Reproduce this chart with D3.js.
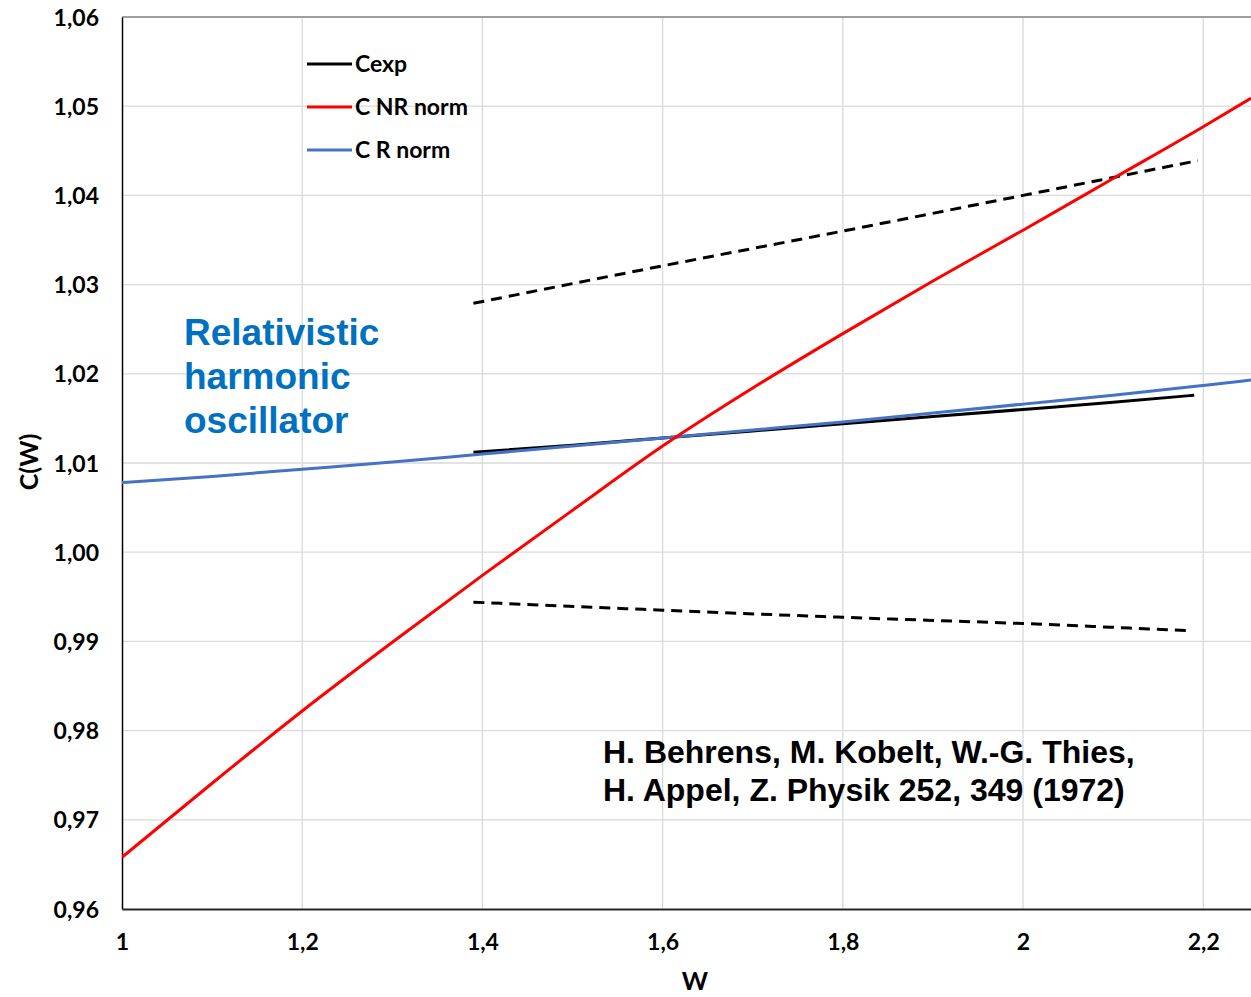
<!DOCTYPE html>
<html>
<head>
<meta charset="utf-8">
<script src="https://d3js.org/d3.v7.min.js"></script>
<style>
  html, body { margin: 0; padding: 0; background: #fff; }
  svg { display: block; }
</style>
</head>
<body>
<svg id="chart" width="1251" height="997"></svg>
<script>
// ---- data ----
const xTicks = [1, 1.2, 1.4, 1.6, 1.8, 2, 2.2];
const xTickLabels = ["1", "1,2", "1,4", "1,6", "1,8", "2", "2,2"];
const yTicks = [0.96, 0.97, 0.98, 0.99, 1.00, 1.01, 1.02, 1.03, 1.04, 1.05, 1.06];
const yTickLabels = ["0,96", "0,97", "0,98", "0,99", "1,00", "1,01", "1,02", "1,03", "1,04", "1,05", "1,06"];

const wTheory = [1.0, 1.1, 1.2, 1.3, 1.4, 1.5, 1.6, 1.7, 1.8, 1.9, 2.0, 2.1, 2.2, 2.253];
const cNRnorm = [0.9658, 0.9741, 0.9822, 0.9899, 0.9974, 1.0047, 1.0119, 1.0184, 1.0245, 1.0304, 1.0361, 1.0419, 1.0477, 1.0509];
const cRnorm  = [1.0078, 1.0085, 1.0093, 1.0101, 1.0110, 1.0119, 1.0128, 1.0137, 1.0146, 1.0156, 1.0166, 1.0176, 1.0187, 1.0193];

const wExp = [1.39, 1.5, 1.6, 1.7, 1.8, 1.9, 2.0, 2.1, 2.19];
const cExp = [1.0112, 1.0120, 1.0128, 1.0136, 1.0144, 1.0152, 1.0160, 1.0168, 1.0176];

const wUpper = [1.39, 1.6, 1.8, 2.0, 2.194];
const cUpper = [1.0279, 1.0321, 1.0360, 1.0400, 1.0439];
const wLower = [1.39, 1.6, 1.8, 2.0, 2.183];
const cLower = [0.9944, 0.9935, 0.9927, 0.9920, 0.9912];

const legendItems = ["Cexp", "C NR norm", "C R norm"];
const legendColors = ["#000000", "#ff0000", "#4472c4"];

// ---- layout ----
const svg = d3.select("#chart");
const mLeft = 122, mRight = 1251, mTop = 17, mBottom = 909;
const x = d3.scaleLinear().domain([1, 2.253]).range([mLeft, mRight]);
const y = d3.scaleLinear().domain([0.96, 1.06]).range([mBottom, mTop]);
const tickFont = "Lato, 'Open Sans', sans-serif";

// gridlines
svg.append("g").selectAll("line").data(yTicks.slice(1, -1)).join("line")
  .attr("x1", mLeft).attr("x2", mRight)
  .attr("y1", d => y(d)).attr("y2", d => y(d))
  .attr("stroke", "#d9d9d9").attr("stroke-width", 1.3);
svg.append("g").selectAll("line").data(xTicks.slice(1)).join("line")
  .attr("x1", d => x(d)).attr("x2", d => x(d))
  .attr("y1", mTop).attr("y2", mBottom)
  .attr("stroke", "#d9d9d9").attr("stroke-width", 1.3);

// top border
svg.append("line").attr("x1", mLeft).attr("x2", mRight).attr("y1", mTop).attr("y2", mTop)
  .attr("stroke", "#7f7f7f").attr("stroke-width", 1.5);

// axes
const yAxis = d3.axisLeft(y).tickValues(yTicks).tickSize(0).tickPadding(23)
  .tickFormat((d, i) => yTickLabels[i]);
const gy = svg.append("g").attr("transform", `translate(${mLeft},0)`).call(yAxis);
gy.select(".domain").attr("stroke", "#000").attr("stroke-width", 1.5);
gy.selectAll("text").attr("font-family", tickFont).attr("font-weight", "bold")
  .attr("font-size", 23).attr("fill", "#000").attr("dy", "0.35em");

const xAxis = d3.axisBottom(x).tickValues(xTicks).tickSize(0).tickPadding(25)
  .tickFormat((d, i) => xTickLabels[i]);
const gx = svg.append("g").attr("transform", `translate(0,${mBottom})`).call(xAxis);
gx.select(".domain").attr("stroke", "#262626").attr("stroke-width", 2);
gx.selectAll("text").attr("font-family", tickFont).attr("font-weight", "bold")
  .attr("font-size", 23).attr("fill", "#000");

// axis titles
svg.append("text").attr("transform", "translate(38,462) rotate(-90)")
  .attr("text-anchor", "middle").attr("font-family", tickFont).attr("font-weight", "bold")
  .attr("font-size", 25).text("C(W)");
svg.append("text").attr("x", 695).attr("y", 990)
  .attr("text-anchor", "middle").attr("font-family", tickFont).attr("font-weight", "bold")
  .attr("font-size", 25).text("W");

// clip
svg.append("clipPath").attr("id", "plotclip").append("rect")
  .attr("x", mLeft).attr("y", mTop).attr("width", mRight - mLeft).attr("height", mBottom - mTop);
const plot = svg.append("g").attr("clip-path", "url(#plotclip)");

const line = d3.line().x(d => x(d[0])).y(d => y(d[1])).curve(d3.curveMonotoneX);
const zip = (a, b) => a.map((v, i) => [v, b[i]]);

plot.append("path").datum(zip(wUpper, cUpper)).attr("d", line)
  .attr("fill", "none").attr("stroke", "#000").attr("stroke-width", 3)
  .attr("stroke-dasharray", "11,7");
plot.append("path").datum(zip(wLower, cLower)).attr("d", line)
  .attr("fill", "none").attr("stroke", "#000").attr("stroke-width", 3)
  .attr("stroke-dasharray", "11,7");
plot.append("path").datum(zip(wExp, cExp)).attr("d", line)
  .attr("fill", "none").attr("stroke", "#000").attr("stroke-width", 3);
plot.append("path").datum(zip(wTheory, cRnorm)).attr("d", line)
  .attr("fill", "none").attr("stroke", "#4472c4").attr("stroke-width", 3);
plot.append("path").datum(zip(wTheory, cNRnorm)).attr("d", line)
  .attr("fill", "none").attr("stroke", "#ff0000").attr("stroke-width", 3);

// legend
const lg = svg.append("g");
legendItems.forEach((name, i) => {
  const ly = 64 + i * 43;
  lg.append("line").attr("x1", 307).attr("x2", 352).attr("y1", ly).attr("y2", ly)
    .attr("stroke", legendColors[i]).attr("stroke-width", 3);
  lg.append("text").attr("x", 355).attr("y", ly + 8)
    .attr("font-family", tickFont).attr("font-weight", "bold").attr("font-size", 23)
    .attr("fill", "#000").text(name);
});

// annotation
const ann = ["Relativistic", "harmonic", "oscillator"];
ann.forEach((t, i) => {
  svg.append("text").attr("x", 184).attr("y", 345 + i * 44)
    .attr("font-family", "'Liberation Sans', Arial, sans-serif").attr("font-weight", "bold")
    .attr("font-size", 37).attr("fill", "#0070c0").text(t);
});
const cite = ["H. Behrens, M. Kobelt, W.-G. Thies,", "H. Appel, Z. Physik 252, 349 (1972)"];
cite.forEach((t, i) => {
  svg.append("text").attr("x", 603).attr("y", 763 + i * 38)
    .attr("font-family", "'Liberation Sans', Arial, sans-serif").attr("font-weight", "bold")
    .attr("font-size", 32).attr("fill", "#000").text(t);
});
</script>
</body>
</html>
